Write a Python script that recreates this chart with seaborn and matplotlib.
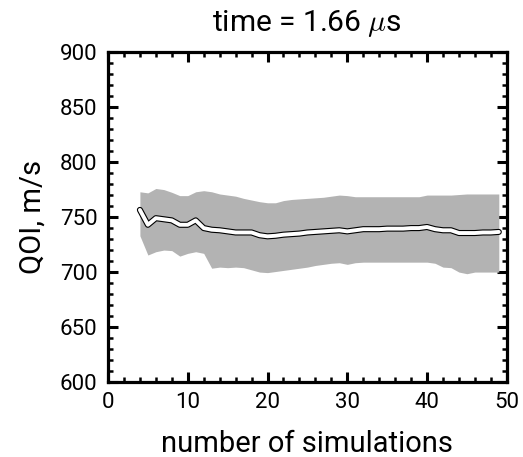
import numpy as np
import pandas as pd
import matplotlib
matplotlib.use("Agg")
import matplotlib.pyplot as plt
import seaborn as sns
from matplotlib.ticker import MultipleLocator

n_sims = list(range(4, 50))
qoi_mean = [756.5, 743, 749, 748, 747, 743, 743, 747, 740, 738.5,
            738, 737, 736, 736, 736, 733.5, 732.5, 733, 734, 734.5,
            735, 736, 736.5, 737, 737.5, 738, 737, 738, 739, 739,
            739, 739.5, 739.5, 739.5, 740, 740, 741, 739, 738, 738,
            735.5, 735.5, 735.5, 736, 736, 736.5]
qoi_upper = [773, 772, 776, 775, 772.5, 769.5, 769.5, 773, 774, 773,
             771, 770, 769, 767, 765.5, 764, 763, 763, 765, 766,
             766.5, 767, 767.5, 768, 769, 770, 769.5, 768.5, 768.5, 768.5,
             768.5, 768.5, 768.5, 768.5, 768.5, 768.5, 770, 770, 770, 770,
             770.5, 771, 771, 771, 771, 771]
qoi_lower = [733, 715.5, 718.5, 720, 719.5, 714.5, 717, 718.5, 717, 703.5,
             704.5, 704, 704.5, 704, 702, 700, 699.5, 700.5, 701.5, 702.5,
             703.5, 704.5, 706, 707, 708, 708.5, 707, 708.5, 709, 709,
             709, 709, 709, 709, 709, 709, 709, 708, 704.5, 704,
             700, 698.5, 700, 700, 700, 700]

df = pd.DataFrame({"n": n_sims, "mean": qoi_mean, "lo": qoi_lower, "hi": qoi_upper})

sns.set_style("ticks")
plt.rcParams["font.family"] = ["Roboto", "DejaVu Sans"]
plt.rcParams["mathtext.fontset"] = "cm"
plt.rcParams["xtick.major.pad"] = 7.5
plt.rcParams["ytick.major.pad"] = 7.5

fig = plt.figure(figsize=(5.23, 4.57), dpi=100)
ax = fig.add_axes([0.2065, 0.164, 0.7625, 0.722])

ax.fill_between(df["n"], df["lo"], df["hi"], color="#b3b3b3", linewidth=0, zorder=1)
sns.lineplot(data=df, x="n", y="mean", ax=ax, color="black", linewidth=4.4, zorder=2)
sns.lineplot(data=df, x="n", y="mean", ax=ax, color="white", linewidth=2.8, zorder=3)

ax.set_xlim(0, 50)
ax.set_ylim(600, 900)
ax.xaxis.set_major_locator(MultipleLocator(10))
ax.xaxis.set_minor_locator(MultipleLocator(2))
ax.yaxis.set_major_locator(MultipleLocator(50))
ax.yaxis.set_minor_locator(MultipleLocator(10))
ax.tick_params(which="both", direction="in", top=True, right=True, labelsize=16, color="black")
ax.tick_params(which="major", length=7, width=2.2)
ax.tick_params(which="minor", length=3.5, width=1.8)
for s in ax.spines.values():
    s.set_linewidth(2.3)
    s.set_color("black")
for lbl in ax.get_xticklabels() + ax.get_yticklabels():
    lbl.set_color("black")

ax.set_xlabel("number of simulations", fontsize=21, color="black")
ax.set_ylabel("QOI, m/s", fontsize=21, color="black")
ax.xaxis.set_label_coords(0.5, -0.145)
ax.yaxis.set_label_coords(-0.155, 0.5)
ax.set_title(r"time = 1.66 $\mu$s", fontsize=21.5, pad=0, y=1.064, color="black")

fig.savefig("out.png", dpi=100)
